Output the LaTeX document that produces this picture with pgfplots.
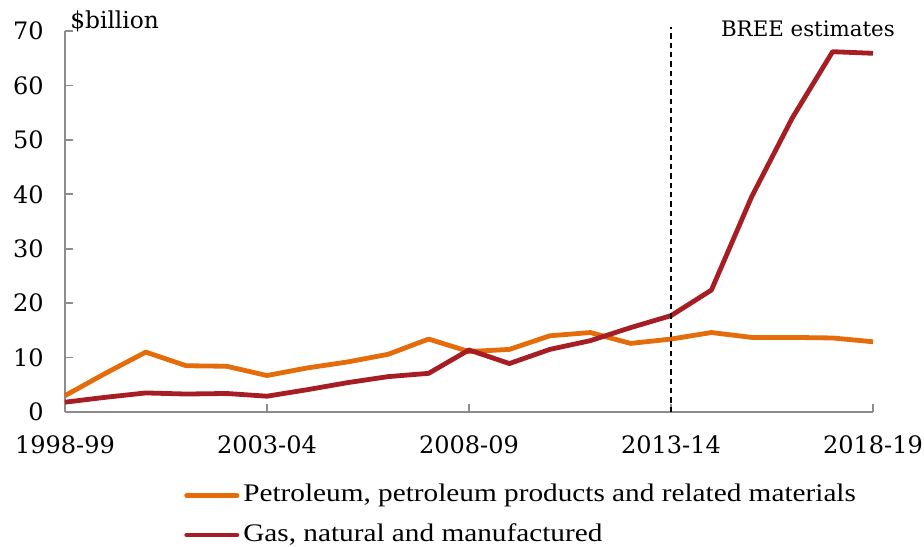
\documentclass[border=0pt]{standalone}
\usepackage{fontspec}
\setmainfont{DejaVu Serif}
\newfontfamily\legfont[FakeStretch=1.155]{Liberation Serif}
\usepackage{pgfplots}
\pgfplotsset{compat=1.18}
\definecolor{petro}{RGB}{228,108,10}
\definecolor{gas}{RGB}{166,30,36}
\definecolor{axgray}{RGB}{140,140,140}
\begin{document}
\begin{tikzpicture}
\begin{axis}[name=ax, scale only axis, width=606pt, height=285.75pt,
 xmin=0, xmax=20, ymin=0, ymax=70,
 axis lines*=left,
 axis line style={axgray, line width=1.2pt},
 xtick={0,5,10,15,20},
 xticklabels={1998-99,2003-04,2008-09,2013-14,2018-19},
 ytick={0,10,...,70},
 tick align=inside, major tick length=6pt,
 tick style={axgray, line width=1.2pt},
 ticklabel style={font=\fontsize{18}{21}\selectfont},
 /pgf/number format/assume math mode=true,
 yticklabel style={xshift=-12.5pt},
 xticklabel style={yshift=-14pt},
 clip=false,
 legend style={at={(0.1473,-0.191)}, anchor=north west, draw=none, fill=none,
   inner sep=0pt, row sep=13.5pt,
   font=\fontsize{19}{21}\selectfont\legfont,
   nodes={inner xsep=3pt, inner ysep=0pt, text height=12.5pt, text depth=3.5pt}},
 legend cell align=left,
 legend image code/.code={\draw[#1, line cap=round] (1.8pt,0pt) -- (39.45pt,0pt);},
]
\addplot[petro, line width=3.6pt, line join=round] coordinates {
(0,3.0) (1,7.1) (2,11.0) (3,8.5) (4,8.4) (5,6.7) (6,8.1) (7,9.2) (8,10.6) (9,13.4)
(10,11.1) (11,11.5) (12,14.0) (13,14.6) (14,12.6) (15,13.4) (16,14.6) (17,13.7)
(18,13.7) (19,13.6) (20,12.9)};
\addlegendentry{Petroleum, petroleum products and related materials}
\addplot[gas, line width=3.6pt, line join=round] coordinates {
(0,1.8) (1,2.7) (2,3.5) (3,3.3) (4,3.4) (5,2.9) (6,4.1) (7,5.4) (8,6.5) (9,7.1)
(10,11.4) (11,8.9) (12,11.5) (13,13.1) (14,15.5) (15,17.7) (16,22.4) (17,39.6)
(18,54.0) (19,66.2) (20,65.9)};
\addlegendentry{Gas, natural and manufactured}
\addplot[black, line width=1.2pt, dash pattern=on 4pt off 3pt, forget plot] coordinates {(15,0) (15,70.8)};
\node[anchor=base east, inner sep=0pt, font=\fontsize{16}{19}\selectfont] at ([xshift=16.5pt]axis cs:20,68.9) {BREE estimates};
\node[anchor=base west, inner sep=0pt, font=\fontsize{17.5}{20}\selectfont] at ([xshift=3.75pt]axis cs:0,70.55) {\$billion};
\end{axis}
\pgfresetboundingbox
\path ([shift={(-48.75pt,-101.25pt)}]ax.south west) rectangle ([shift={(38.25pt,23.25pt)}]ax.north east);
\end{tikzpicture}
\end{document}
